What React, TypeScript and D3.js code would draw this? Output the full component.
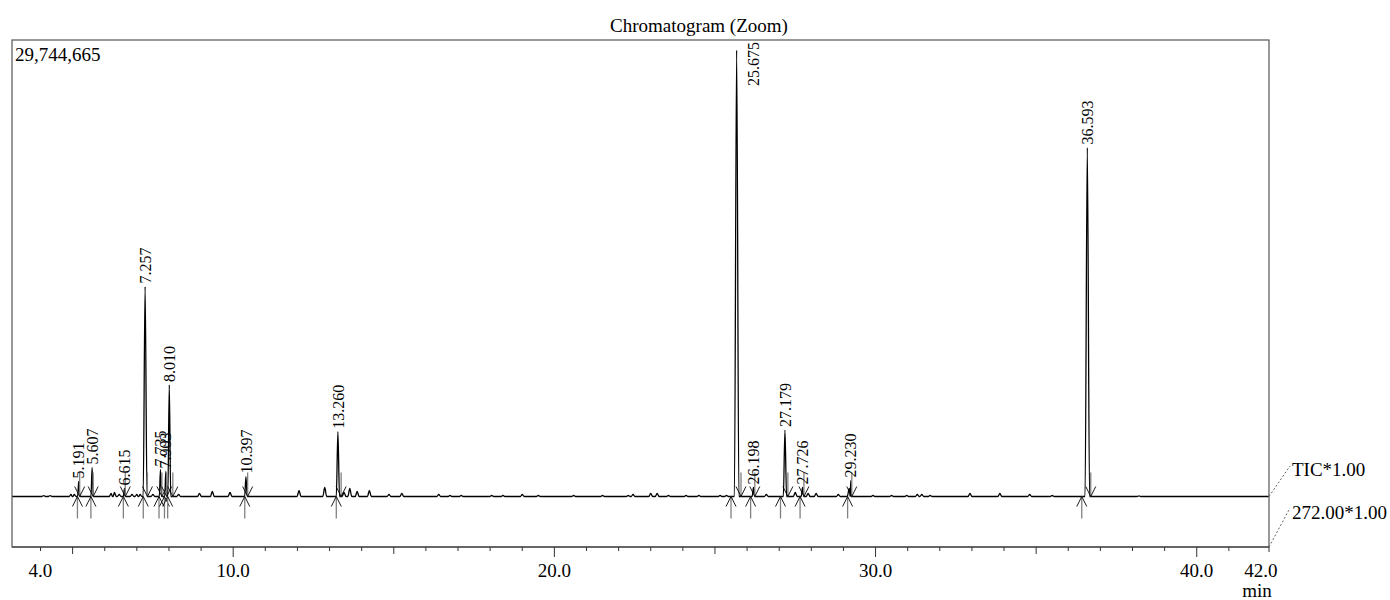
import React from 'react';
import * as d3 from 'd3';

const title = 'Chromatogram (Zoom)';
const maxIntensity = 29744665;
const tickLabels = [4.0, 10.0, 20.0, 30.0, 40.0, 42.0];
const traceLabels = ['TIC*1.00', '272.00*1.00'];

// labelled peaks (retention time, height, integration start / end)
const peakTimes = [5.191, 5.607, 6.615, 7.257, 7.735, 7.903, 8.010, 10.397, 13.260, 25.675, 26.198, 27.179, 27.726, 29.230, 36.593];
const peakHeights = [980000, 1890000, 520000, 13680000, 1760000, 1630000, 7270000, 1300000, 4220000, 29090000, 590000, 4330000, 590000, 1040000, 22740000];
const peakWidths = [0.035, 0.035, 0.035, 0.06, 0.035, 0.035, 0.045, 0.04, 0.05, 0.07, 0.04, 0.05, 0.04, 0.02, 0.07];
const peakStarts = [5.15, 5.57, 6.58, 7.20, 7.69, 7.86, 7.96, 10.36, 13.21, 25.50, 26.11, 27.04, 27.65, 29.13, 36.42];
const peakEnds = [5.22, 5.64, 6.64, 7.33, 7.78, 7.93, 8.12, 10.45, 13.36, 25.81, 26.24, 27.27, 27.77, 29.26, 36.70];

// small unlabelled peaks along the baseline
const minorTimes = [4.1, 4.3, 4.95, 5.05, 6.2, 6.3, 6.45, 6.85, 7.0, 7.1, 7.5, 8.3, 8.95, 9.35, 9.9, 12.05, 12.85, 13.45, 13.63, 13.86, 14.24, 14.85, 15.25, 16.4, 16.75, 17.1, 18.05, 18.4, 19.0, 19.5, 20.6, 21.5, 22.3, 22.45, 23.0, 23.2, 23.55, 24.1, 24.5, 25.16, 25.36, 26.6, 27.5, 27.9, 28.15, 28.84, 29.18, 29.92, 30.5, 30.97, 31.3, 31.44, 31.7, 32.94, 33.87, 34.8, 35.5, 38.2];
const minorHeights = [60000, 60000, 130000, 130000, 200000, 260000, 130000, 130000, 130000, 130000, 130000, 130000, 200000, 330000, 260000, 390000, 590000, 260000, 520000, 330000, 390000, 130000, 200000, 130000, 65000, 65000, 65000, 65000, 130000, 65000, 65000, 65000, 65000, 130000, 200000, 200000, 65000, 65000, 65000, 65000, 65000, 130000, 260000, 200000, 200000, 130000, 520000, 65000, 65000, 65000, 130000, 130000, 65000, 200000, 200000, 130000, 65000, 35000];
const minorWidth = 0.06;

const font = '"Liberation Serif", "Times New Roman", serif';

export default function App() {
  const left = 12, right = 1269, top = 40, base = 496.5, bottom = 547;
  const x = d3.scaleLinear().domain([3.113, 42.25]).range([left, right]);
  const y = d3.scaleLinear().domain([0, maxIntensity]).range([base, top]);
  const y2 = d3.scaleLinear().domain([0, maxIntensity]).range([bottom, top + 50]);

  // build the TIC trace from the peak list
  const pts: [number, number][] = [[3.113, 0], [42.25, 0]];
  peakTimes.forEach((t, i) => {
    pts.push([t - peakWidths[i], 0], [t, peakHeights[i]], [t + peakWidths[i], 0]);
  });
  minorTimes.forEach((t, i) => {
    pts.push([t - minorWidth, 0], [t, minorHeights[i]], [t + minorWidth, 0]);
  });
  pts.sort((a, b) => a[0] - b[0]);

  const line = d3.line<[number, number]>()
    .x(d => x(d[0]))
    .y(d => y(d[1]))
    .curve(d3.curveMonotoneX);
  const line2 = d3.line<[number, number]>()
    .x(d => x(d[0]))
    .y(d => y2(d[1]));

  const ticks = d3.range(4, 42);

  return (
    <svg width={1390} height={600} style={{ position: 'absolute', left: 0, top: 0, background: '#fff' }} fontFamily={font}>
      <text x={699} y={32} fontSize={19} textAnchor="middle">{title}</text>

      <path d={line2([[3.113, 0], [42.25, 0]]) || ''} stroke="#000" fill="none" strokeWidth={1} />
      <path d={line(pts) || ''} stroke="#000" fill="none" strokeWidth={1.3} strokeLinejoin="round" />

      {/* integration markers */}
      {peakStarts.map((t, i) => {
        const px = x(t);
        return (
          <g key={'s' + i}>
            <line x1={px} x2={px} y1={base} y2={base + 22} stroke="#808080" strokeWidth={1.3} />
            <path d={`M${px - 5},${base + 10}L${px},${base}L${px + 5},${base + 10}`} stroke="#000" fill="none" strokeWidth={0.9} />
          </g>
        );
      })}
      {peakEnds.map((t, i) => {
        const px = x(t);
        return (
          <g key={'e' + i}>
            <line x1={px} x2={px} y1={base - 24} y2={base} stroke="#808080" strokeWidth={1.3} />
            <path d={`M${px - 5},${base - 10}L${px},${base}L${px + 5},${base - 10}`} stroke="#000" fill="none" strokeWidth={0.9} />
          </g>
        );
      })}

      {/* peak labels */}
      {peakTimes.map((t, i) => {
        const label = t.toFixed(3);
        const py = y(peakHeights[i]) - 3;
        const len = label.length * 7.5;
        if (py - len < top) {
          return (
            <text key={'l' + i} transform={`translate(${x(t) + 17},${top + 2}) rotate(-90)`} dy="0.35em" fontSize={16} textAnchor="end">{label}</text>
          );
        }
        return (
          <text key={'l' + i} transform={`translate(${x(t)},${py}) rotate(-90)`} dy="0.35em" fontSize={16} textAnchor="start">{label}</text>
        );
      })}

      {/* frame */}
      <rect x={left} y={top} width={right - left} height={bottom - top} fill="none" stroke="#555" strokeWidth={1.2} />
      <text x={15} y={61} fontSize={19}>{d3.format(',')(maxIntensity)}</text>

      {/* x axis */}
      {ticks.map(t => (
        <line key={'t' + t} x1={x(t)} x2={x(t)} y1={bottom} y2={bottom + (t % 10 === 0 ? 10 : t % 5 === 0 ? 7 : 4)} stroke="#333" strokeWidth={1} />
      ))}
      <line x1={right} x2={right} y1={bottom} y2={bottom + 5} stroke="#333" />
      {tickLabels.map(t => (
        <text key={'tl' + t} x={x(t)} y={577} fontSize={19} textAnchor="middle">{t.toFixed(1)}</text>
      ))}
      <text x={1257} y={597} fontSize={19} textAnchor="middle">min</text>

      {/* trace labels */}
      <line x1={right} y1={base} x2={1290} y2={466} stroke="#666" strokeDasharray="2,2" />
      <text x={1292} y={476} fontSize={19}>{traceLabels[0]}</text>
      <line x1={right} y1={bottom} x2={1290} y2={508} stroke="#666" strokeDasharray="2,2" />
      <text x={1292} y={519} fontSize={19}>{traceLabels[1]}</text>
    </svg>
  );
}
